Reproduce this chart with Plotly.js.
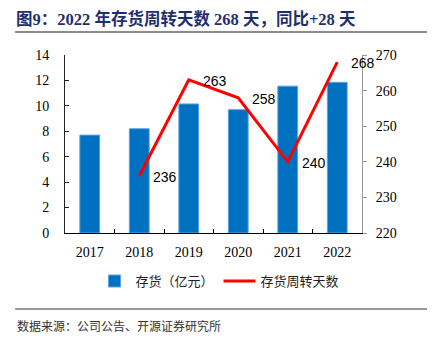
<!DOCTYPE html>
<html>
<head>
<meta charset="utf-8">
<script src="https://cdn.plot.ly/plotly-3.0.1.min.js"></script>
<style>html,body{margin:0;padding:0;background:#fff;}#chart{width:432px;height:344px;}</style>
</head>
<body>
<div id="chart"></div>
<script>
const years = ['2017', '2018', '2019', '2020', '2021', '2022'];
const inventory = [7.7, 8.2, 10.15, 9.7, 11.55, 11.85];
const turnoverYears = ['2018', '2019', '2020', '2021', '2022'];
const turnoverDays = [236, 263, 258, 240, 268];
const leftTicks = [0, 2, 4, 6, 8, 10, 12, 14];
const rightTicks = [220, 230, 240, 250, 260, 270];

const serif = 'Liberation Serif, Times New Roman, serif';
const cjk = 'Noto Sans CJK SC, sans-serif';

const traces = [
  {
    type: 'bar', name: '存货（亿元）', x: years, y: inventory,
    width: 0.4,
    marker: {color: '#0070C0', line: {color: '#5EA3DD', width: 1}},
    hoverinfo: 'skip'
  },
  {
    type: 'scatter', mode: 'lines', name: '存货周转天数',
    x: turnoverYears, y: turnoverDays, yaxis: 'y2',
    line: {color: '#FF0000', width: 3},
    hoverinfo: 'skip'
  }
];

const annotations = turnoverYears.map((yr, i) => ({
  x: years.indexOf(yr), y: turnoverDays[i], xref: 'x', yref: 'y2',
  text: String(turnoverDays[i]), showarrow: false,
  xanchor: 'left', yanchor: 'middle', xshift: 12, yshift: -1,
  font: {family: 'Liberation Sans, Arial, sans-serif', size: 14, color: '#000'}
}));
annotations.push({
  xref: 'paper', yref: 'paper', x: -0.168, y: -0.517,
  xanchor: 'left', yanchor: 'middle', showarrow: false,
  text: '数据来源：公司公告、开源证券研究所',
  font: {family: cjk, size: 12, color: '#333'}
});

const layout = {
  width: 432, height: 344,
  margin: {l: 65, r: 70, t: 55, b: 111},
  paper_bgcolor: '#fff', plot_bgcolor: '#fff',
  title: {
    text: '<b>图9：2022 年存货周转天数 268 天，同比+28 天</b>',
    x: 16/432, xref: 'container', xanchor: 'left',
    y: 1 - 19/344, yref: 'container', yanchor: 'middle',
    font: {family: 'Liberation Serif, Noto Sans CJK SC, serif', size: 16.5, color: '#1F2F6E'}
  },
  showlegend: true,
  legend: {
    orientation: 'h', x: 0.5185, xanchor: 'center', y: -0.27, yanchor: 'middle',
    font: {family: cjk, size: 13, color: '#222'},
    itemwidth: 32, tracegroupgap: 0, traceorder: 'normal'
  },
  xaxis: {
    type: 'category', range: [-0.5, 5.5],
    showline: true, linecolor: '#000', linewidth: 1,
    ticks: 'inside', tickson: 'boundaries', ticklen: 4, tickcolor: '#000',
    tickfont: {family: serif, size: 14, color: '#000'},
    ticklabelstandoff: 6,
    showgrid: false, zeroline: false, fixedrange: true
  },
  yaxis: {
    range: [0, 14], tickvals: leftTicks, ticktext: leftTicks.map(String),
    showline: true, linecolor: '#222', linewidth: 1,
    ticks: 'inside', ticklen: 4, tickcolor: '#222',
    tickfont: {family: serif, size: 14, color: '#000'},
    ticklabelstandoff: 12,
    showgrid: false, zeroline: false, fixedrange: true
  },
  yaxis2: {
    range: [220, 270], tickvals: rightTicks, ticktext: rightTicks.map(String),
    overlaying: 'y', side: 'right',
    showline: true, linecolor: '#9a9a9a', linewidth: 1,
    ticks: 'outside', ticklen: 4, tickcolor: '#9a9a9a',
    tickfont: {family: serif, size: 14, color: '#000'},
    ticklabelstandoff: 6,
    showgrid: false, zeroline: false, fixedrange: true
  },
  shapes: [
    {type: 'line', xref: 'paper', yref: 'paper', x0: -0.168, x1: 1.219,
     y0: (233-32)/178, y1: (233-32)/178, line: {color: '#8c8c8c', width: 2}},
    {type: 'line', xref: 'paper', yref: 'paper', x0: -0.168, x1: 1.219,
     y0: (233-309)/178, y1: (233-309)/178, line: {color: '#333', width: 1}}
  ],
  annotations: annotations
};

Plotly.newPlot('chart', traces, layout, {displayModeBar: false, staticPlot: true});
</script>
</body>
</html>
